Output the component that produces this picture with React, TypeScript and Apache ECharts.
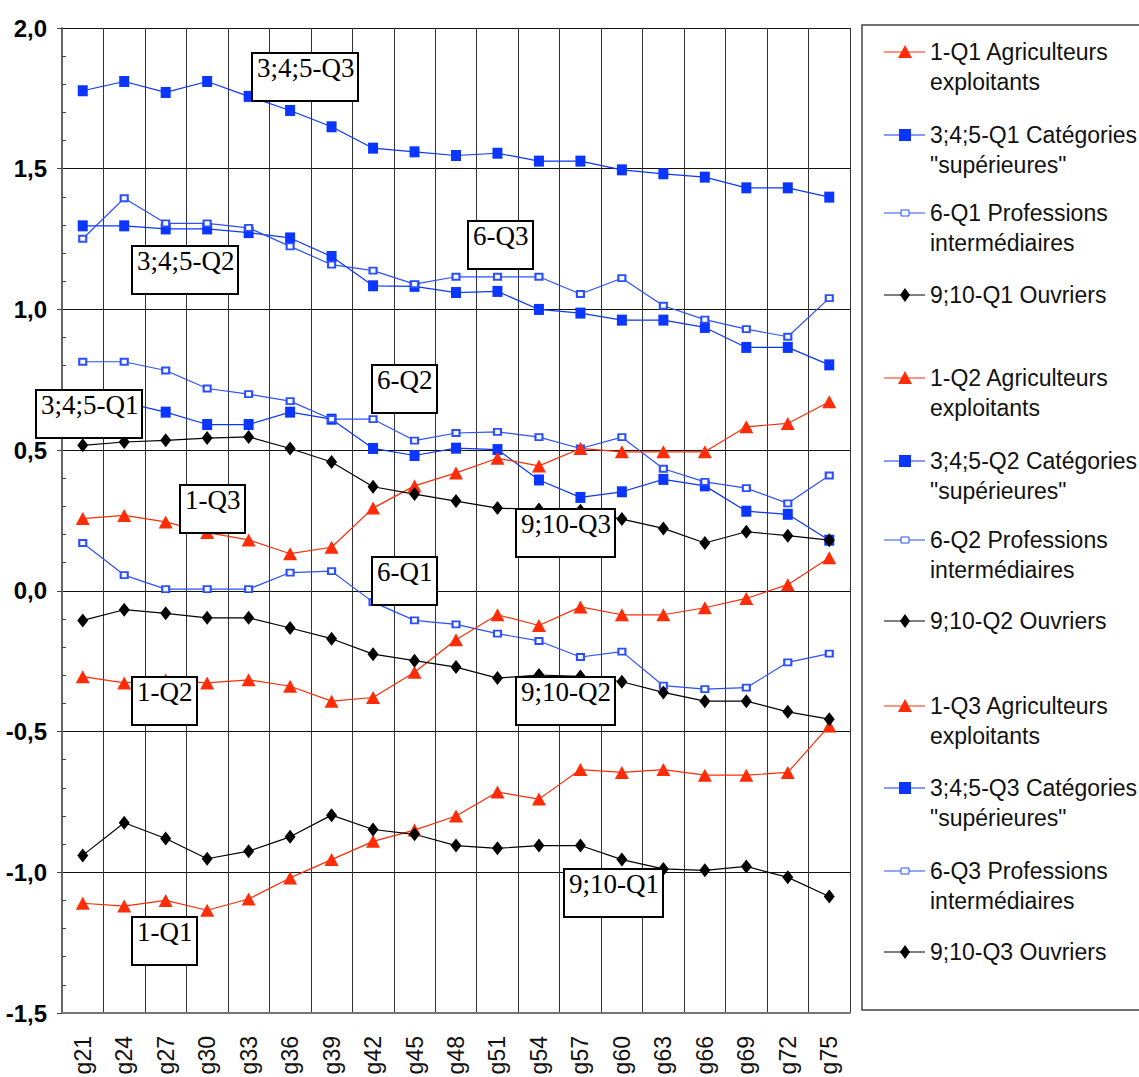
import { useEffect, useRef } from 'react';
import * as echarts from 'echarts';

// Categories (x axis)
const categories = [
  'g21', 'g24', 'g27', 'g30', 'g33', 'g36', 'g39', 'g42', 'g45', 'g48',
  'g51', 'g54', 'g57', 'g60', 'g63', 'g66', 'g69', 'g72', 'g75',
];

// 1 - Agriculteurs exploitants
const agriQ1 = [-1.11, -1.12, -1.1, -1.135, -1.095, -1.02, -0.955, -0.89, -0.85, -0.8, -0.715, -0.74, -0.635, -0.645, -0.635, -0.655, -0.655, -0.645, -0.48];
const agriQ2 = [-0.305, -0.327, -0.317, -0.327, -0.316, -0.339, -0.392, -0.379, -0.289, -0.174, -0.085, -0.123, -0.057, -0.085, -0.085, -0.06, -0.027, 0.022, 0.118];
const agriQ3 = [0.257, 0.268, 0.245, 0.207, 0.181, 0.132, 0.155, 0.294, 0.373, 0.419, 0.471, 0.444, 0.506, 0.494, 0.494, 0.494, 0.583, 0.595, 0.672];

// 3;4;5 - Catégories "supérieures"
const supQ1 = [0.69, 0.67, 0.635, 0.591, 0.591, 0.635, 0.61, 0.506, 0.481, 0.507, 0.502, 0.394, 0.332, 0.352, 0.396, 0.373, 0.283, 0.272, 0.18];
const supQ2 = [1.297, 1.297, 1.286, 1.286, 1.273, 1.254, 1.188, 1.084, 1.082, 1.06, 1.064, 1.0, 0.987, 0.962, 0.962, 0.936, 0.865, 0.865, 0.803];
const supQ3 = [1.777, 1.81, 1.771, 1.81, 1.757, 1.707, 1.649, 1.573, 1.56, 1.547, 1.555, 1.527, 1.527, 1.496, 1.482, 1.47, 1.432, 1.432, 1.399];

// 6 - Professions intermédiaires
const interQ1 = [0.17, 0.056, 0.006, 0.006, 0.006, 0.065, 0.07, -0.04, -0.105, -0.119, -0.152, -0.178, -0.235, -0.216, -0.337, -0.349, -0.344, -0.254, -0.223];
const interQ2 = [0.814, 0.814, 0.783, 0.719, 0.699, 0.674, 0.61, 0.61, 0.534, 0.561, 0.565, 0.546, 0.506, 0.546, 0.434, 0.387, 0.365, 0.311, 0.41];
const interQ3 = [1.251, 1.395, 1.306, 1.306, 1.29, 1.224, 1.159, 1.138, 1.09, 1.116, 1.116, 1.116, 1.055, 1.111, 1.013, 0.964, 0.93, 0.903, 1.04];

// 9;10 - Ouvriers
const ouvQ1 = [-0.94, -0.824, -0.88, -0.952, -0.925, -0.874, -0.797, -0.848, -0.865, -0.905, -0.915, -0.905, -0.905, -0.955, -0.988, -0.993, -0.979, -1.018, -1.086];
const ouvQ2 = [-0.105, -0.067, -0.08, -0.096, -0.096, -0.132, -0.17, -0.225, -0.248, -0.271, -0.31, -0.299, -0.304, -0.323, -0.361, -0.392, -0.392, -0.43, -0.456];
const ouvQ3 = [0.517, 0.529, 0.535, 0.543, 0.547, 0.506, 0.458, 0.37, 0.344, 0.319, 0.294, 0.289, 0.285, 0.255, 0.222, 0.17, 0.21, 0.196, 0.18];

// In-plot label boxes
const boxLabels = ['3;4;5-Q3', '3;4;5-Q2', '6-Q3', '3;4;5-Q1', '6-Q2', '1-Q3', '6-Q1', '9;10-Q3', '1-Q2', '9;10-Q2', '1-Q1', '9;10-Q1'];

const SERIF = '"Liberation Serif", "Times New Roman", serif';
const SANS = '"Liberation Sans", Arial, sans-serif';
const NARROW = '"Liberation Sans Narrow", "Arial Narrow", "Liberation Sans", Arial, sans-serif';

type Kind = 'agri' | 'sup' | 'inter' | 'ouv';

const kindStyle: Record<Kind, { color: string; symbol: string; symbolSize: number[] }> = {
  agri: { color: '#ff2c08', symbol: 'triangle', symbolSize: [14, 13] },
  sup: { color: '#0a36ff', symbol: 'rect', symbolSize: [10, 11] },
  inter: { color: '#2b50ff', symbol: 'emptyRect', symbolSize: [7, 6] },
  ouv: { color: '#000000', symbol: 'diamond', symbolSize: [11, 14] },
};

const seriesDefs: { name: string; kind: Kind; data: number[] }[] = [
  { name: '1-Q1 Agriculteurs\nexploitants', kind: 'agri', data: agriQ1 },
  { name: '3;4;5-Q1 Catégories\n"supérieures"', kind: 'sup', data: supQ1 },
  { name: '6-Q1 Professions\nintermédiaires', kind: 'inter', data: interQ1 },
  { name: '9;10-Q1 Ouvriers', kind: 'ouv', data: ouvQ1 },
  { name: '1-Q2 Agriculteurs\nexploitants', kind: 'agri', data: agriQ2 },
  { name: '3;4;5-Q2 Catégories\n"supérieures"', kind: 'sup', data: supQ2 },
  { name: '6-Q2 Professions\nintermédiaires', kind: 'inter', data: interQ2 },
  { name: '9;10-Q2 Ouvriers', kind: 'ouv', data: ouvQ2 },
  { name: '1-Q3 Agriculteurs\nexploitants', kind: 'agri', data: agriQ3 },
  { name: '3;4;5-Q3 Catégories\n"supérieures"', kind: 'sup', data: supQ3 },
  { name: '6-Q3 Professions\nintermédiaires', kind: 'inter', data: interQ3 },
  { name: '9;10-Q3 Ouvriers', kind: 'ouv', data: ouvQ3 },
];

// box positions (px) for each label, same order as boxLabels
const boxPos = [
  [252, 53, 106], [132, 246, 106], [468, 221, 65], [36, 390, 106],
  [372, 365, 65], [180, 485, 65], [372, 557, 65], [516, 509, 99],
  [132, 677, 65], [516, 677, 99], [132, 917, 65], [564, 869, 99],
];

// legend rows (first text line centre)
const legendY = [52, 135, 213, 295, 378, 461, 540, 621, 706, 788, 871, 952];

function legendMarker(kind: Kind, cx: number, cy: number) {
  const c = kindStyle[kind].color;
  if (kind === 'agri') {
    return { type: 'polygon', z: 102, shape: { points: [[cx, cy - 7], [cx + 7, cy + 6], [cx - 7, cy + 6]] }, style: { fill: c } };
  }
  if (kind === 'sup') {
    return { type: 'rect', z: 102, shape: { x: cx - 6, y: cy - 6, width: 12, height: 12 }, style: { fill: c } };
  }
  if (kind === 'inter') {
    return { type: 'rect', z: 102, shape: { x: cx - 4, y: cy - 3, width: 8, height: 6 }, style: { fill: '#fff', stroke: c, lineWidth: 1 } };
  }
  return { type: 'polygon', z: 102, shape: { points: [[cx, cy - 7], [cx + 5, cy], [cx, cy + 7], [cx - 5, cy]] }, style: { fill: c } };
}

export default function App() {
  const chartRef = useRef<HTMLDivElement>(null);

  useEffect(() => {
    if (!chartRef.current) return;
    document.body.style.margin = '0';
    const chart = echarts.init(chartRef.current, undefined, { renderer: 'svg' });

    const labelBoxes = boxLabels.map((t, i) => {
      const [x, y, w] = boxPos[i];
      return {
        type: 'group',
        x,
        y,
        children: [
          { type: 'rect', z: 100, shape: { x: 0, y: 0, width: w, height: 48 }, style: { fill: '#fff', stroke: '#000', lineWidth: 2 } },
          { type: 'text', z: 101, x: 5, y: 1, style: { text: t, fontSize: 27, fontFamily: SERIF, fill: '#000', align: 'left', verticalAlign: 'top' } },
        ],
      };
    });

    const legendItems = seriesDefs.map((d, i) => {
      const y = legendY[i];
      const c = kindStyle[d.kind].color;
      return {
        type: 'group',
        children: [
          { type: 'line', z: 101, shape: { x1: 884, y1: y, x2: 925, y2: y }, style: { stroke: c, lineWidth: 1.2 } },
          legendMarker(d.kind, 905, y),
          {
            type: 'text',
            z: 101,
            x: 930,
            y: y - 15,
            style: { text: d.name, fontSize: 23, fontFamily: SANS, fill: '#111', lineHeight: 30, align: 'left', verticalAlign: 'top' },
          },
        ],
      };
    });

    const option = {
      animation: false,
      backgroundColor: '#fff',
      grid: { left: 62, right: 289, top: 28, bottom: 64, containLabel: false, outerBoundsMode: 'none' },
      xAxis: {
        type: 'category',
        data: categories,
        boundaryGap: true,
        axisLine: { onZero: false, lineStyle: { color: '#777', width: 2 } },
        axisTick: { show: false },
        axisLabel: { interval: 0, rotate: 90, fontSize: 23, fontFamily: NARROW, color: '#111', margin: 23 },
        splitLine: { show: true, interval: 0, lineStyle: { color: '#333', width: 1 } },
      },
      yAxis: [
        {
          type: 'value',
          min: -1.5,
          max: 2,
          interval: 0.5,
          position: 'left',
          axisLine: { show: true, lineStyle: { color: '#666', width: 2 } },
          axisTick: { show: true, length: 5, lineStyle: { color: '#444' } },
          axisLabel: {
            formatter: (v: number) => v.toFixed(1).replace('.', ','),
            fontWeight: 'bold',
            fontSize: 24,
            fontFamily: NARROW,
            color: '#000',
            margin: 15,
          },
          splitLine: { show: true, lineStyle: { color: '#111', width: 1 } },
        },
        {
          type: 'value',
          min: -1.5,
          max: 2,
          interval: 0.5,
          position: 'left',
          axisLine: { show: false },
          axisTick: { show: false, inside: true },
          axisLabel: { show: false },
          splitLine: { show: false },
          minorTick: { show: true, splitNumber: 5, length: 4, lineStyle: { color: '#444' } },
        },
      ],
      series: seriesDefs.map(d => {
        const s = kindStyle[d.kind];
        return {
          type: 'line',
          name: d.name,
          data: d.data,
          yAxisIndex: 0,
          symbol: s.symbol,
          symbolSize: s.symbolSize,
          showSymbol: true,
          itemStyle: { color: s.color, borderWidth: d.kind === 'inter' ? 1 : 0 },
          lineStyle: { color: s.color, width: 1.2 },
        };
      }),
      graphic: [
        {
          type: 'rect',
          z: 90,
          shape: { x: 862, y: 25, width: 290, height: 985 },
          style: { fill: '#fff', stroke: '#444', lineWidth: 1.5 },
        },
        ...legendItems,
        ...labelBoxes,
      ],
    };

    chart.setOption(option as any);

    return () => {
      chart.dispose();
    };
  }, []);

  return <div ref={chartRef} style={{ width: '1139px', height: '1077px' }} />;
}
